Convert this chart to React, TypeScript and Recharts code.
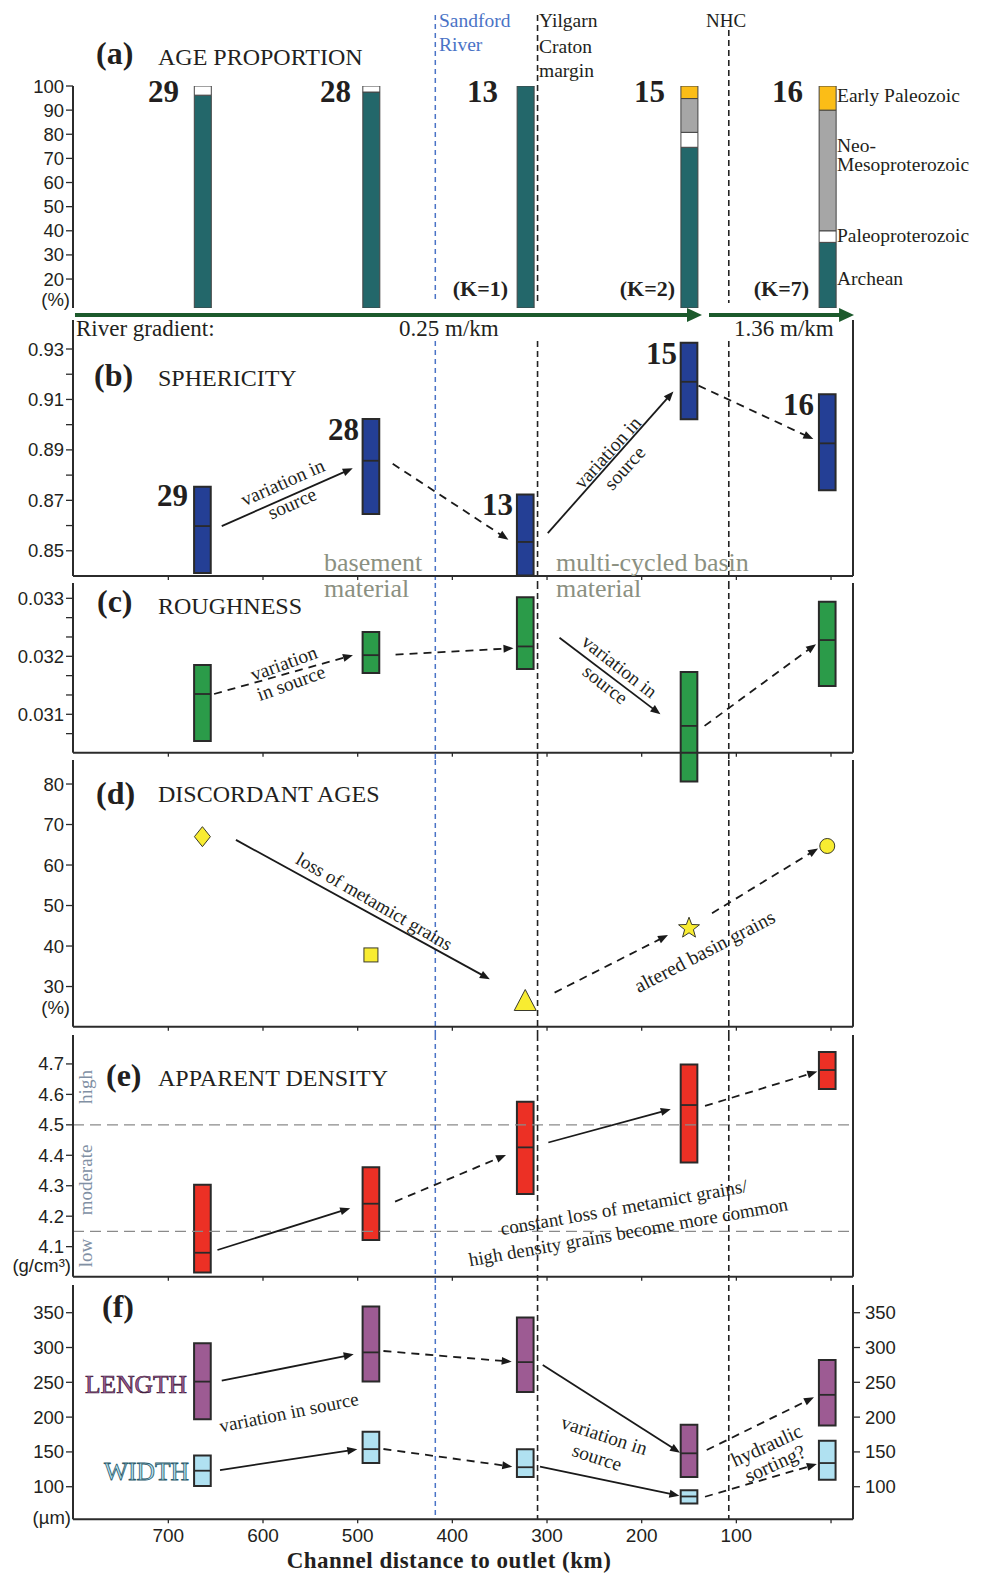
import React from "react";
import { ComposedChart, Bar, Scatter, XAxis, YAxis, ReferenceLine, ReferenceArea } from "recharts";

// samples, upstream -> downstream
const SAMPLES = ["29", "28", "13", "15", "16"];
const DIST = [664, 486, 323, 150, 4]; // channel distance to outlet (km)

// (a) age proportion (%)
const ARCHEAN = [96.2, 97.5, 100, 74.6, 35.2];
const PALEOPROTEROZOIC = [3.8, 2.5, 0, 6.2, 4.8];
const NEO_MESO = [0, 0, 0, 14, 50];
const EARLY_PALEOZOIC = [0, 0, 0, 5.2, 10];
const K_LABELS = ["", "", "(K=1)", "(K=2)", "(K=7)"];

// (b) sphericity: low / median / high
const SPH_LOW = [0.8412, 0.8646, 0.8402, 0.9021, 0.874];
const SPH_MED = [0.8598, 0.8857, 0.8535, 0.917, 0.8926];
const SPH_HIGH = [0.8754, 0.9022, 0.8723, 0.9325, 0.9121];

// (c) roughness
const RGH_LOW = [0.03054, 0.03171, 0.03178, 0.02984, 0.03149];
const RGH_MED = [0.03135, 0.03202, 0.03217, 0.0308, 0.03228];
const RGH_HIGH = [0.03185, 0.03242, 0.03302, 0.03173, 0.03294];

// (d) discordant ages (%)
const DISCORDANT = [67, 37.8, 26.3, 44.4, 64.7];
const MARKERS = ["diamond", "square", "triangle", "star", "circle"];

// (e) apparent density (g/cm3)
const DEN_LOW = [4.015, 4.122, 4.273, 4.376, 4.618];
const DEN_MED = [4.08, 4.241, 4.426, 4.565, 4.68];
const DEN_HIGH = [4.303, 4.361, 4.576, 4.698, 4.739];

// (f) length / width (um)
const LEN_LOW = [197, 251, 236, 114, 188];
const LEN_MED = [251, 293, 279, 148, 232];
const LEN_HIGH = [306, 359, 343, 189, 282];
const WID_LOW = [101, 134, 114, 76, 110];
const WID_MED = [123, 154, 128, 86, 134];
const WID_HIGH = [145, 179, 154, 95, 166];

// boundaries (km)
const SANDFORD_KM = 418;
const YILGARN_KM = 310;
const NHC_KM = 108;

// trend arrows: [fromKm, fromValue, toKm, toValue, dashed]
type Arrow = [number, number, number, number, boolean];
const SPH_ARROWS: Arrow[] = [
  [643.6, 0.8598, 505.2, 0.8827, false],
  [463, 0.8845, 340.8, 0.8544, true],
  [299.2, 0.857, 166.5, 0.9132, false],
  [140, 0.9155, 18.7, 0.8943, true],
];
const RGH_ARROWS: Arrow[] = [
  [651.7, 0.03135, 505, 0.03202, true],
  [460, 0.03203, 335.4, 0.03214, true],
  [286.8, 0.03232, 180.2, 0.031, false],
  [133.6, 0.0308, 15.8, 0.03221, true],
];
const DISC_ARROWS: Arrow[] = [
  [628.6, 66.2, 360.4, 31.8, false],
  [292, 28.5, 172.2, 42.7, true],
  [125.7, 48.1, 13.7, 64.1, true],
];
const DEN_ARROWS: Arrow[] = [
  [648.1, 4.089, 507.9, 4.226, false],
  [460.5, 4.248, 343.3, 4.401, true],
  [298.6, 4.442, 169.3, 4.551, false],
  [133.1, 4.562, 14.5, 4.675, true],
];
const LEN_ARROWS: Arrow[] = [
  [643.6, 252.3, 504.2, 290.2, false],
  [472.8, 295, 337.3, 279.6, true],
  [304.5, 274.9, 159.5, 148.9, false],
  [131.3, 152.7, 18, 228.4, true],
];
const WID_ARROWS: Arrow[] = [
  [645.4, 123.9, 500.4, 153.7, false],
  [472.8, 154.2, 336.7, 128.8, true],
  [307.4, 128.8, 160.2, 87, false],
  [133.1, 85.6, 15, 132.5, true],
];
// river gradient arrows (km)
const GRADIENT_SPANS = [
  [798.6, 136.3],
  [128.9, -24.3],
];
const GRADIENT_LABELS = ["0.25 m/km", "1.36 m/km"];

const X_MIN = -23.2;
const X_MAX = 800.7;
const X_TICKS = [700, 600, 500, 400, 300, 200, 100, 0];

const W = 983;
const H = 1576;
const YW = 73;
const RW = 130;
const HALF = 8.8; // half box width, km

const INK = "#231f20";
const AXIS = "#2b2b2b";
const EDGE = "#2a2a2a";
const TEAL = "#23676a";
const GRAY = "#a6a6a6";
const GOLD = "#fbbd17";
const BLUE_BOX = "#243f95";
const GREEN_BOX = "#2b9b49";
const RED_BOX = "#ec3025";
const PURPLE = "#9d5b93";
const PALE_BLUE = "#b0e1f1";
const MARK_YELLOW = "#f8ec31";
const RIVER_BLUE = "#4a73c6";
const OLIVE = "#8b9081";
const SLATE = "#8190a4";
const DARK_GREEN = "#1c5a2c";

const SERIF = "'Liberation Serif', 'Times New Roman', serif";
const SANS = "'Liberation Sans', Arial, sans-serif";

const ageRows = DIST.map((x, i) => ({
  x,
  archean: ARCHEAN[i],
  paleo: PALEOPROTEROZOIC[i],
  neo: NEO_MESO[i],
  early: EARLY_PALEOZOIC[i],
}));
const discRows = DIST.map((x, i) => ({ x, y: DISCORDANT[i], marker: MARKERS[i] }));
const plainRows = DIST.map((x) => ({ x }));

const arrowShape =
  (dashed: boolean, color = "#1a1a1a", w = 1.8, head = 10, hw = 4) =>
  (p: any) => {
    const { x1, y1, x2, y2 } = p;
    const dx = x2 - x1;
    const dy = y2 - y1;
    const len = Math.hypot(dx, dy) || 1;
    const ux = dx / len;
    const uy = dy / len;
    const bx = x2 - ux * head;
    const by = y2 - uy * head;
    return (
      <g>
        <line x1={x1} y1={y1} x2={bx + ux} y2={by + uy} stroke={color} strokeWidth={w} strokeDasharray={dashed ? "8 6" : undefined} />
        <polygon points={`${x2},${y2} ${bx - uy * hw},${by + ux * hw} ${bx + uy * hw},${by - ux * hw}`} fill={color} />
      </g>
    );
  };

const vline = (dTop: number, dBottom: number, color: string, dash: string, w = 1.6) => (p: any) => {
  const top = Math.min(p.y1, p.y2) + dTop;
  const bottom = Math.max(p.y1, p.y2) + dBottom;
  return <line x1={p.x1} x2={p.x2} y1={top} y2={bottom} stroke={color} strokeWidth={w} strokeDasharray={dash} />;
};

function boundaries(dTop: number, dBottom: number, nhcTop = dTop) {
  return [
    <ReferenceLine key="sf" x={SANDFORD_KM} ifOverflow="visible" shape={vline(dTop, dBottom, RIVER_BLUE, "5 4", 1.5)} />,
    <ReferenceLine key="yc" x={YILGARN_KM} ifOverflow="visible" shape={vline(dTop, dBottom, "#222", "6 4")} />,
    <ReferenceLine key="nhc" x={NHC_KM} ifOverflow="visible" shape={vline(nhcTop, dBottom, "#222", "6 4")} />,
  ];
}

function arrows(list: Arrow[], key: string) {
  return list.map(([a, b, c, d, dashed], i) => (
    <ReferenceLine key={key + i} segment={[{ x: a, y: b }, { x: c, y: d }]} ifOverflow="visible" shape={arrowShape(dashed)} />
  ));
}

function boxes(low: number[], med: number[], high: number[], fill: string, key: string) {
  return DIST.flatMap((d, i) => [
    <ReferenceArea
      key={key + "a" + i}
      x1={d + HALF}
      x2={d - HALF}
      y1={low[i]}
      y2={high[i]}
      fill={fill}
      fillOpacity={1}
      stroke={EDGE}
      strokeWidth={2}
      ifOverflow="visible"
    />,
    <ReferenceLine
      key={key + "m" + i}
      segment={[{ x: d + HALF, y: med[i] }, { x: d - HALF, y: med[i] }]}
      stroke={EDGE}
      strokeWidth={1.8}
      ifOverflow="visible"
    />,
  ]);
}

const tickFont = { fontSize: 18.5, fill: INK, fontFamily: SANS };
const noTick = () => <g />;

function xAxis(h: number, labels = false) {
  return (
    <XAxis
      key="x"
      type="number"
      dataKey="x"
      domain={[X_MIN, X_MAX]}
      allowDataOverflow
      reversed
      ticks={X_TICKS}
      interval={0}
      height={h}
      tickSize={4}
      tickMargin={5}
      tick={labels ? { fontSize: 19, fill: INK, fontFamily: SANS } : noTick}
      tickFormatter={(v: number) => (v === 0 ? "" : String(v))}
      axisLine={{ stroke: AXIS, strokeWidth: 2 }}
      tickLine={{ stroke: AXIS, strokeWidth: 1.3 }}
    />
  );
}

function yLeft(domain: number[], ticks: number[], fmt?: (v: number) => string) {
  return (
    <YAxis
      key="yl"
      type="number"
      domain={domain}
      allowDataOverflow
      ticks={ticks}
      interval={0}
      width={YW}
      tickSize={7}
      tickMargin={2}
      tick={tickFont}
      tickFormatter={fmt}
      axisLine={{ stroke: AXIS, strokeWidth: 2 }}
      tickLine={{ stroke: AXIS, strokeWidth: 1.3 }}
    />
  );
}

function yRight(domain: number[], ticks?: number[]) {
  return (
    <YAxis
      key="yr"
      yAxisId="r"
      orientation="right"
      type="number"
      domain={domain}
      allowDataOverflow
      ticks={ticks}
      interval={0}
      width={RW}
      tickSize={7}
      tickMargin={5}
      tick={ticks ? tickFont : noTick}
      tickLine={ticks ? { stroke: AXIS, strokeWidth: 1.3 } : false}
      axisLine={{ stroke: AXIS, strokeWidth: 2 }}
    />
  );
}

const near = (list: number[]) => (v: number) => list.some((t) => Math.abs(t - v) < 1e-7);

// panels b-f carry a right axis of width RW, so no extra right margin
function frame(plotTop: number, plotH: number, xh: number, mb = 0) {
  const mt = 2;
  return {
    style: { position: "absolute" as const, left: 0, top: plotTop - mt },
    height: mt + plotH + xh + mb,
    margin: { top: mt, right: 0, bottom: mb, left: 0 },
  };
}

const markerShape = (p: any) => {
  const { cx, cy, payload } = p;
  const common = { fill: MARK_YELLOW, stroke: "#3a3a2a", strokeWidth: 1 };
  switch (payload.marker) {
    case "diamond":
      return <polygon {...common} points={`${cx},${cy - 10} ${cx + 8},${cy} ${cx},${cy + 10} ${cx - 8},${cy}`} />;
    case "square":
      return <rect {...common} x={cx - 7} y={cy - 7} width={14} height={14} />;
    case "triangle":
      return <polygon {...common} points={`${cx},${cy - 12} ${cx + 11},${cy + 9} ${cx - 11},${cy + 9}`} />;
    case "star": {
      const pts: string[] = [];
      for (let k = 0; k < 10; k++) {
        const r = k % 2 === 0 ? 11 : 4.6;
        const a = -Math.PI / 2 + (k * Math.PI) / 5;
        pts.push(`${cx + r * Math.cos(a)},${cy + r * Math.sin(a)}`);
      }
      return <polygon {...common} points={pts.join(" ")} />;
    }
    default:
      return <ellipse {...common} cx={cx} cy={cy} rx={7.5} ry={7.5} />;
  }
};

function PanelA() {
  return (
    <div style={{ position: "absolute", left: 0, top: 0 }}>
      <ComposedChart width={W} height={324} data={ageRows} margin={{ top: 86, right: RW, bottom: 16, left: 0 }}>
        <XAxis hide type="number" dataKey="x" domain={[X_MIN, X_MAX]} allowDataOverflow reversed />
        {yLeft([8, 100], [20, 30, 40, 50, 60, 70, 80, 90, 100])}
        {boundaries(-71, -5, -56)}
        <Bar dataKey="archean" stackId="s" fill={TEAL} stroke="#444" strokeWidth={1} barSize={17} isAnimationActive={false} />
        <Bar dataKey="paleo" stackId="s" fill="#ffffff" stroke="#444" strokeWidth={1} barSize={17} isAnimationActive={false} />
        <Bar dataKey="neo" stackId="s" fill={GRAY} stroke="#444" strokeWidth={1} barSize={17} isAnimationActive={false} />
        <Bar dataKey="early" stackId="s" fill={GOLD} stroke="#444" strokeWidth={1} barSize={17} isAnimationActive={false} />
        {GRADIENT_SPANS.map(([a, b], i) => (
          <ReferenceLine
            key={"g" + i}
            segment={[{ x: a, y: 5.1 }, { x: b, y: 5.1 }]}
            ifOverflow="visible"
            shape={arrowShape(false, DARK_GREEN, 4, 15, 7)}
          />
        ))}
      </ComposedChart>
    </div>
  );
}

function PanelB() {
  const f = frame(320, 256, 7);
  return (
    <div style={f.style}>
      <ComposedChart width={W} height={f.height} data={plainRows} margin={f.margin}>
        {xAxis(7)}
        {yLeft([0.84, 0.9415], [0.85, 0.86, 0.87, 0.88, 0.89, 0.9, 0.91, 0.92, 0.93], (v) =>
          near([0.85, 0.87, 0.89, 0.91, 0.93])(v) ? v.toFixed(2) : ""
        )}
        {yRight([0.84, 0.9415])}
        {boundaries(21, 7)}
        {boxes(SPH_LOW, SPH_MED, SPH_HIGH, BLUE_BOX, "b")}
        {arrows(SPH_ARROWS, "ba")}
      </ComposedChart>
    </div>
  );
}

function PanelC() {
  const f = frame(583, 169.7, 7, 25);
  return (
    <div style={f.style}>
      <ComposedChart width={W} height={f.height} data={plainRows} margin={f.margin}>
        {xAxis(7)}
        {yLeft(
          [0.030338, 0.033264],
          [0.0306667, 0.031, 0.0313333, 0.0316667, 0.032, 0.0323333, 0.0326667, 0.033],
          (v) => (near([0.031, 0.032, 0.033])(v) ? v.toFixed(3) : "")
        )}
        {yRight([0.030338, 0.033264])}
        {boundaries(0, 7.3)}
        {boxes(RGH_LOW, RGH_MED, RGH_HIGH, GREEN_BOX, "c")}
        {arrows(RGH_ARROWS, "ca")}
      </ComposedChart>
    </div>
  );
}

function PanelD() {
  const f = frame(760, 266.7, 8.3);
  return (
    <div style={f.style}>
      <ComposedChart width={W} height={f.height} data={discRows} margin={f.margin}>
        {xAxis(8.3)}
        {yLeft([20.08, 85.93], [30, 40, 50, 60, 70, 80])}
        {yRight([20.08, 85.93])}
        {boundaries(0, 8.3)}
        {arrows(DISC_ARROWS, "da")}
        <Scatter dataKey="y" isAnimationActive={false} shape={markerShape} />
      </ComposedChart>
    </div>
  );
}

function PanelE() {
  const f = frame(1035, 241.7, 8.3);
  return (
    <div style={f.style}>
      <ComposedChart width={W} height={f.height} data={plainRows} margin={f.margin}>
        {xAxis(8.3)}
        {yLeft([4.0013, 4.795], [4.1, 4.2, 4.3, 4.4, 4.5, 4.6, 4.7], (v) => v.toFixed(1))}
        {yRight([4.0013, 4.795])}
        <ReferenceLine y={4.5} stroke="#8a8a8a" strokeWidth={1.2} strokeDasharray="11 6" />
        <ReferenceLine y={4.15} stroke="#8a8a8a" strokeWidth={1.2} strokeDasharray="11 6" />
        {boundaries(0, 8.3)}
        {boxes(DEN_LOW, DEN_MED, DEN_HIGH, RED_BOX, "e")}
        {arrows(DEN_ARROWS, "ea")}
      </ComposedChart>
    </div>
  );
}

function PanelF() {
  const f = frame(1285, 234.3, 30, 4);
  return (
    <div style={f.style}>
      <ComposedChart width={W} height={f.height} data={plainRows} margin={f.margin}>
        {xAxis(30, true)}
        {yLeft([53.2, 389.8], [100, 150, 200, 250, 300, 350])}
        {yRight([53.2, 389.8], [100, 150, 200, 250, 300, 350])}
        {boundaries(0, 0)}
        {boxes(LEN_LOW, LEN_MED, LEN_HIGH, PURPLE, "fl")}
        {boxes(WID_LOW, WID_MED, WID_HIGH, PALE_BLUE, "fw")}
        {arrows(LEN_ARROWS, "fla")}
        {arrows(WID_ARROWS, "fwa")}
      </ComposedChart>
    </div>
  );
}

const T = ({ x, y, s, c = INK, b = false, a = "start", f = SERIF, children, ...rest }: any) => (
  <text x={x} y={y} fontSize={s} fill={c} fontWeight={b ? 700 : 400} textAnchor={a} fontFamily={f} {...rest}>
    {children}
  </text>
);

type Note = { lines: string[]; x: number; y: number; rot: number; size: number; gap: number };
const NOTES: Note[] = [
  { lines: ["variation in", "source"], x: 283, y: 483, rot: -24, size: 19.5, gap: 23 },
  { lines: ["variation in", "source"], x: 608, y: 453, rot: -48, size: 19.5, gap: 23 },
  { lines: ["variation", "in source"], x: 284, y: 664, rot: -20, size: 19.5, gap: 21 },
  { lines: ["variation in", "source"], x: 619, y: 667, rot: 38, size: 19.5, gap: 23 },
  { lines: ["loss of metamict grains"], x: 374, y: 902, rot: 30, size: 19, gap: 0 },
  { lines: ["altered basin grains"], x: 705, y: 952, rot: -27.5, size: 20, gap: 0 },
  { lines: ["constant loss of metamict grains/", "high density grains become more common"], x: 624, y: 1208, rot: -10, size: 19, gap: 25 },
  { lines: ["variation in source"], x: 289, y: 1413, rot: -11.3, size: 19, gap: 0 },
  { lines: ["variation in", "source"], x: 604, y: 1436, rot: 18, size: 19.5, gap: 23 },
  { lines: ["hydraulic", "sorting?"], x: 767, y: 1446, rot: -24.4, size: 20, gap: 20 },
];

const TITLES = [
  { tag: "(a)", name: "AGE PROPORTION", tx: 96, ty: 64, ny: 65 },
  { tag: "(b)", name: "SPHERICITY", tx: 94, ty: 386, ny: 386 },
  { tag: "(c)", name: "ROUGHNESS", tx: 97, ty: 612, ny: 614 },
  { tag: "(d)", name: "DISCORDANT AGES", tx: 96, ty: 804, ny: 802 },
  { tag: "(e)", name: "APPARENT DENSITY", tx: 106, ty: 1086, ny: 1086 },
  { tag: "(f)", name: "", tx: 102, ty: 1317, ny: 1317 },
];

const LABEL_A_END = [179, 351, 498, 665, 803];
const LABEL_B_END = [188, 359, 513, 677, 814];
const LABEL_B_Y = [506, 440, 515, 364, 415];
const K_END = [0, 0, 508, 675, 809];

function Overlay() {
  return (
    <svg width={W} height={H} style={{ position: "absolute", left: 0, top: 0, pointerEvents: "none" }}>
      <T x={439} y={27} s={19.5} c={RIVER_BLUE}>Sandford</T>
      <T x={439} y={51} s={19.5} c={RIVER_BLUE}>River</T>
      <T x={539} y={27} s={19.5}>Yilgarn</T>
      <T x={539} y={53} s={19.5}>Craton</T>
      <T x={539} y={77} s={19.5}>margin</T>
      <T x={706} y={27} s={19}>NHC</T>

      {TITLES.map((t) => (
        <g key={t.tag}>
          <T x={t.tx} y={t.ty} s={32} b>{t.tag}</T>
          {t.name && <T x={158} y={t.ny} s={24}>{t.name}</T>}
        </g>
      ))}

      {SAMPLES.map((s, i) => (
        <T key={"la" + s} x={LABEL_A_END[i]} y={102} s={31} b a="end">{s}</T>
      ))}
      {SAMPLES.map((s, i) => (
        <T key={"lb" + s} x={LABEL_B_END[i]} y={LABEL_B_Y[i]} s={31} b a="end">{s}</T>
      ))}
      {K_LABELS.map((k, i) =>
        k ? (
          <T key={"k" + i} x={K_END[i]} y={296} s={22} b a="end">{k}</T>
        ) : null
      )}

      <T x={837} y={102} s={19.5}>Early Paleozoic</T>
      <T x={837} y={152} s={19.5}>Neo-</T>
      <T x={837} y={171} s={19.5}>Mesoproterozoic</T>
      <T x={837} y={242} s={19.5}>Paleoproterozoic</T>
      <T x={837} y={285} s={19.5}>Archean</T>

      <T x={76} y={336} s={23}>River gradient:</T>
      <T x={399} y={336} s={23}>{GRADIENT_LABELS[0]}</T>
      <T x={734} y={336} s={23}>{GRADIENT_LABELS[1]}</T>

      <T x={324} y={571} s={26} c={OLIVE}>basement</T>
      <T x={324} y={597} s={26} c={OLIVE}>material</T>
      <T x={556} y={571} s={26} c={OLIVE}>multi-cycled basin</T>
      <T x={556} y={597} s={26} c={OLIVE}>material</T>

      <T x={70} y={306} s={18.5} f={SANS} a="end">(%)</T>
      <T x={70} y={1014} s={18.5} f={SANS} a="end">(%)</T>
      <T x={71} y={1272} s={18.5} f={SANS} a="end">(g/cm³)</T>
      <T x={71} y={1524} s={18.5} f={SANS} a="end">(µm)</T>

      {[
        ["high", 1087],
        ["moderate", 1180],
        ["low", 1253],
      ].map(([t, y]) => (
        <g key={t as string} transform={`translate(86,${y}) rotate(-90)`}>
          <T x={0} y={0} s={19} c={SLATE} a="middle" dy="0.3em">{t}</T>
        </g>
      ))}

      <T x={85} y={1393} s={25.5} c={PURPLE} stroke="#3a1838" strokeWidth={0.7}>LENGTH</T>
      <T x={104} y={1480} s={25.5} c={PALE_BLUE} stroke="#2b5a6a" strokeWidth={0.8}>WIDTH</T>

      {NOTES.map((n, i) => (
        <g key={"n" + i} transform={`translate(${n.x},${n.y}) rotate(${n.rot})`}>
          {n.lines.map((l, j) => (
            <T key={j} x={0} y={j * n.gap} s={n.size} a="middle" dy="0.3em">{l}</T>
          ))}
        </g>
      ))}

      <T x={449} y={1568} s={23} b a="middle" letterSpacing={0.5}>Channel distance to outlet (km)</T>
    </svg>
  );
}

export default function App() {
  return (
    <div style={{ position: "absolute", left: 0, top: 0, width: W, height: H, background: "#fff" }}>
      <PanelA />
      <PanelB />
      <PanelD />
      <PanelC />
      <PanelE />
      <PanelF />
      <Overlay />
    </div>
  );
}
